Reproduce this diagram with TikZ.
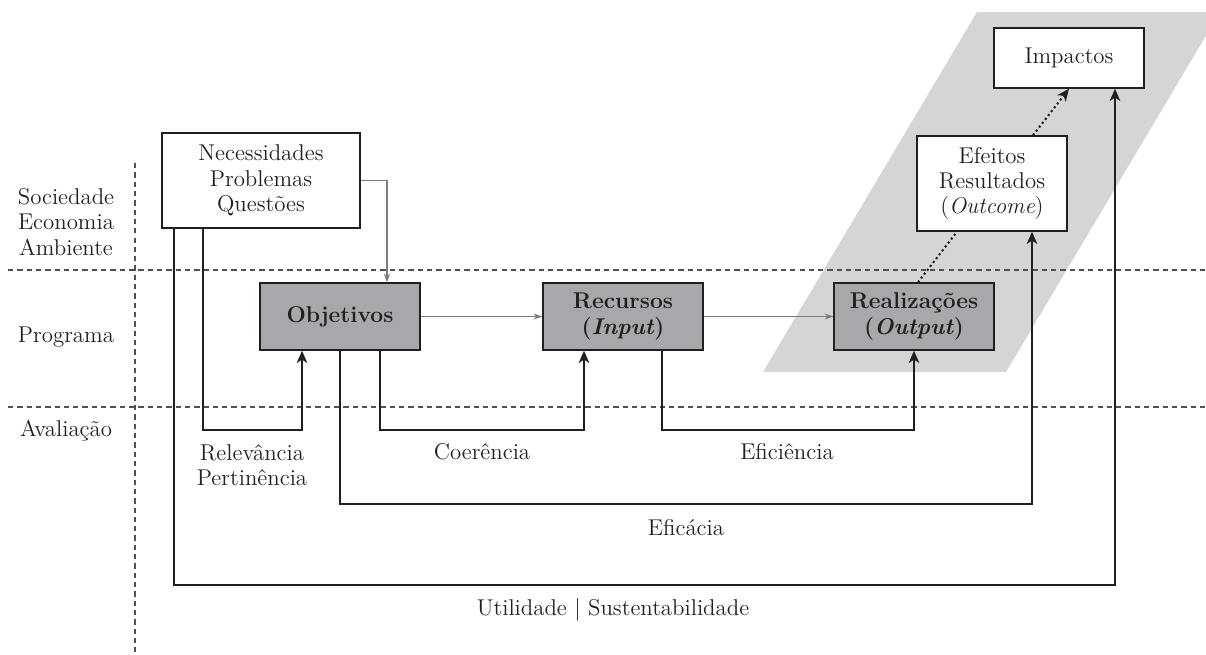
\documentclass[tikz,border=0pt]{standalone}
\usepackage{tikz}
\usetikzlibrary{arrows.meta,positioning,calc}
\definecolor{boxgray}{RGB}{167,168,171}
\definecolor{bandgray}{RGB}{213,213,215}
\definecolor{linkgray}{RGB}{125,125,128}
\definecolor{ink}{RGB}{35,31,32}
\definecolor{rulegray}{RGB}{80,80,82}

\begin{document}
\begin{tikzpicture}[x=0.02cm,y=-0.02cm,
  every node/.append style={font=\fontsize{13}{14.4}\selectfont,align=center,text=ink},
  whitebox/.style={draw=ink,line width=0.8pt,fill=white,minimum width=3cm,minimum height=1.9cm,inner sep=2pt},
  graybox/.style={draw=ink,line width=0.8pt,fill=boxgray,minimum width=3.2cm,minimum height=1.34cm,inner sep=2pt},
  flow/.style={draw=ink,line width=1.1pt,-{Stealth[length=7pt,width=6pt,inset=2pt]}},
  link/.style={draw=linkgray,line width=0.6pt,-{Stealth[length=5pt,width=3.5pt]}},
  dotlink/.style={draw=ink,line width=1.2pt,dash pattern=on 1.2pt off 1.6pt},
  divider/.style={draw=rulegray,line width=0.7pt,dash pattern=on 3pt off 2.3pt}]
\useasboundingbox (0,0) rectangle (1206,654);

% shaded band and the three levels
\fill[bandgray] (763,372) -- (977,12) -- (1220,12) -- (1006,372) -- cycle;
\draw[divider] (8,270) -- (1206,270);
\draw[divider] (8,407) -- (1206,407);
\draw[divider] (135,163) -- (135,652);

\node (society) at (66,222) {Sociedade\\Economia\\Ambiente};
\node (programme) at (66,337) {Programa};
\node (evaluation) at (66,431) {Avaliação};

% boxes
\node[whitebox,minimum width=3.96cm] (needs) at (261,180.5) {Necessidades\\Problemas\\Questões};
\node[graybox] (goals) at (340,316.5) {\textbf{Objetivos}};
\node[graybox] (inputs) at (623,316.5) {\textbf{Recursos}\\\textbf{(\textit{Input})}};
\node[graybox] (outputs) at (914,316.5) {\textbf{Realizações}\\\textbf{(\textit{Output})}};
\node[whitebox] (effects) at (992,183.5) {Efeitos\\Resultados\\(\textit{Outcome})};
\node[whitebox,minimum height=1.2cm] (impacts) at (1069,58) {Impactos};

% programme chain
\draw[link] (needs.east) -| ([xshift=0.94cm]goals.north);
\draw[link] (goals) -- (inputs);
\draw[link] (inputs) -- (outputs);
\draw[dotlink] ([xshift=0.08cm]outputs.north) -- ([xshift=-0.7cm]effects.south);
\draw[dotlink,-{Stealth[length=7pt,width=6pt,inset=2pt]}] ([xshift=0.82cm]effects.north) -- (impacts.south);

% evaluation criteria
\coordinate (lvlA) at (0,430);
\coordinate (lvlB) at (0,504);
\coordinate (lvlC) at (0,585);
\coordinate (relOut) at ([xshift=-1.16cm]needs.south);
\coordinate (utilOut) at ([xshift=-1.74cm]needs.south);
\coordinate (relIn) at ([xshift=-0.76cm]goals.south);
\coordinate (cohOut) at ([xshift=0.8cm]goals.south);
\coordinate (cohIn) at ([xshift=-0.78cm]inputs.south);
\coordinate (effOut) at ([xshift=0.78cm]inputs.south);
\coordinate (ecaIn) at ([xshift=0.8cm]effects.south);
\coordinate (utilIn) at ([xshift=0.92cm]impacts.south);

\draw[flow] (relOut) |- (relIn |- lvlA) -- (relIn);
\draw[flow] (cohOut) |- (cohIn |- lvlA) -- (cohIn);
\draw[flow] (effOut) |- (outputs.south |- lvlA) -- (outputs.south);
\draw[flow] (goals.south) |- (ecaIn |- lvlB) -- (ecaIn);
\draw[flow] (utilOut) |- (utilIn |- lvlC) -- (utilIn);

\node (relev) at (252,465) {Relevância\\Pertinência};
\node (coher) at (482,452) {Coerência};
\node (effic) at (787,452) {Eficiência};
\node (effec) at (686,528) {Eficácia};
\node (util) at (613,610) {Utilidade | Sustentabilidade};
\end{tikzpicture}
\end{document}
